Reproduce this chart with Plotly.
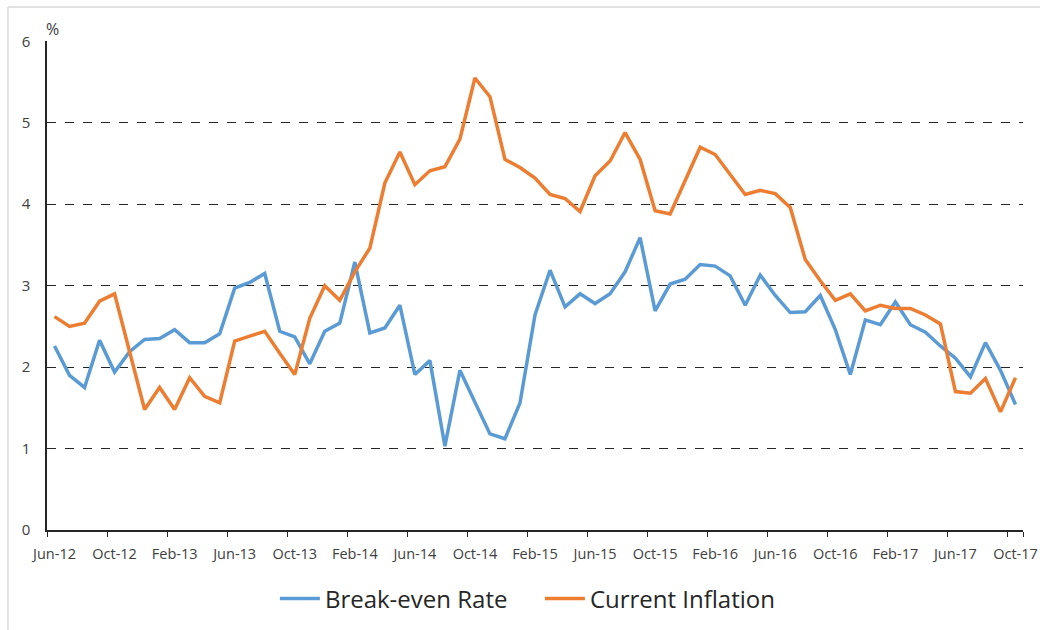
import pandas as pd
import plotly.graph_objects as go

months = [d.strftime("%b-%y") for d in pd.date_range("2012-06-01", periods=65, freq="MS")]

break_even = [2.26, 1.90, 1.75, 2.33, 1.94, 2.19, 2.34, 2.35, 2.46, 2.30,
              2.30, 2.41, 2.97, 3.04, 3.15, 2.44, 2.37, 2.04, 2.44, 2.54,
              3.29, 2.42, 2.48, 2.76, 1.91, 2.08, 1.03, 1.96, 1.57, 1.18,
              1.12, 1.56, 2.64, 3.19, 2.74, 2.90, 2.78, 2.90, 3.17, 3.59,
              2.69, 3.02, 3.08, 3.26, 3.24, 3.12, 2.76, 3.13, 2.88, 2.67,
              2.68, 2.88, 2.46, 1.91, 2.58, 2.52, 2.80, 2.52, 2.43, 2.26,
              2.11, 1.88, 2.30, 1.96, 1.54]

inflation = [2.62, 2.50, 2.54, 2.81, 2.90, 2.17, 1.48, 1.75, 1.48, 1.87,
             1.64, 1.56, 2.32, 2.38, 2.44, 2.17, 1.91, 2.60, 3.00, 2.82,
             3.17, 3.46, 4.26, 4.64, 4.24, 4.41, 4.46, 4.80, 5.55, 5.32,
             4.55, 4.45, 4.32, 4.12, 4.07, 3.91, 4.35, 4.53, 4.88, 4.55,
             3.92, 3.88, 4.28, 4.70, 4.61, 4.37, 4.12, 4.17, 4.13, 3.96,
             3.32, 3.06, 2.82, 2.90, 2.69, 2.76, 2.72, 2.72, 2.64, 2.53,
             1.70, 1.68, 1.86, 1.45, 1.87]

series_names = ["Break-even Rate", "Current Inflation"]
colors = ["#5B9BD5", "#ED7D31"]
y_ticks = [0, 1, 2, 3, 4, 5, 6]

font_family = "Open Sans, Noto Sans, sans-serif"

fig = go.Figure()
for name, vals, col in zip(series_names, [break_even, inflation], colors):
    fig.add_trace(go.Scatter(x=months, y=vals, mode="lines", name=name,
                             line=dict(color=col, width=3.5)))

fig.update_layout(
    width=1040, height=630,
    margin=dict(l=47, r=17, t=41, b=100, autoexpand=False),
    paper_bgcolor="white", plot_bgcolor="white",
    font=dict(family=font_family, color="#404040"),
    showlegend=True,
    legend=dict(orientation="h", x=0.505, xanchor="center", y=-0.141, yanchor="middle",
                font=dict(size=24, color="#262626"), itemwidth=40, entrywidth=210,
                tracegroupgap=0),
    xaxis=dict(type="category", range=[-0.5, 64.5], tickmode="array",
               tickvals=months[::4], ticktext=months[::4], tickson="boundaries",
               ticks="outside", ticklen=5, tickcolor="#262626", tickwidth=1,
               tickangle=0, automargin=False, ticklabelstandoff=10,
               showline=True, linecolor="#262626", linewidth=1.5,
               showgrid=False, tickfont=dict(size=14.5, color="#404040")),
    yaxis=dict(range=[0, 6.004], tickvals=y_ticks, showline=True, linecolor="#262626",
               linewidth=1.5, showgrid=True, gridcolor="#262626", griddash="dash",
               gridwidth=1, zeroline=False, ticks="", ticklabelstandoff=12,
               automargin=False, tickfont=dict(size=15, color="#404040")),
    shapes=[
        dict(type="line", xref="paper", yref="paper", x0=-0.04, x1=1.03, y0=1.0695, y1=1.0695,
             line=dict(color="#D9D9D9", width=1.5)),
        dict(type="line", xref="paper", yref="paper", x0=-0.04, x1=-0.04, y0=1.0695, y1=-0.21,
             line=dict(color="#D9D9D9", width=1.5)),
    ],
    annotations=[
        dict(text="%", xref="paper", yref="paper", x=0.006, y=1.024, xanchor="center",
             yanchor="middle", showarrow=False, font=dict(size=16, color="#404040")),
    ],
)

fig.write_html("out.html",
               config={"displayModeBar": False},
               post_script="document.body.style.margin='0px';document.body.style.overflow='hidden';")
